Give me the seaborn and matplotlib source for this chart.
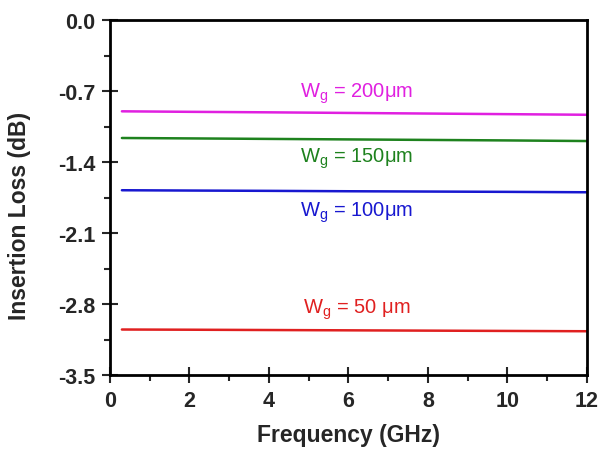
import numpy as np
import pandas as pd
import matplotlib
matplotlib.use('Agg')
import matplotlib.pyplot as plt
import seaborn as sns
from matplotlib.ticker import MultipleLocator

# ─── Data ────────────────────────────────────────────────────────────────────
freq_ghz = [0.3, 2, 4, 6, 8, 10, 12]
loss_200 = [-0.900, -0.905, -0.910, -0.916, -0.922, -0.928, -0.934]
loss_150 = [-1.163, -1.167, -1.172, -1.177, -1.182, -1.187, -1.193]
loss_100 = [-1.678, -1.681, -1.684, -1.688, -1.691, -1.694, -1.698]
loss_50  = [-3.051, -3.053, -3.056, -3.059, -3.062, -3.065, -3.068]

series_names  = ['200', '150', '100', '50']
series_labels = [r'W$_\mathregular{g}$ = 200$\mathregular{\mu}$m',
                 r'W$_\mathregular{g}$ = 150$\mathregular{\mu}$m',
                 r'W$_\mathregular{g}$ = 100$\mathregular{\mu}$m',
                 r'W$_\mathregular{g}$ = 50 $\mathregular{\mu}$m']
label_pos     = [(6.2, -0.72), (6.2, -1.36), (6.2, -1.89), (6.2, -2.85)]
colours       = ['#E020E0', '#1E821E', '#1818D0', '#E02020']

x_ticks = [0, 2, 4, 6, 8, 10, 12]
y_ticks = [0.0, -0.7, -1.4, -2.1, -2.8, -3.5]

df = pd.DataFrame({
    'freq':   freq_ghz * 4,
    'loss':   loss_200 + loss_150 + loss_100 + loss_50,
    'series': [s for s in series_names for _ in freq_ghz],
})

sns.set_theme(style='ticks')
plt.rcParams['font.family'] = ['Liberation Sans', 'DejaVu Sans']
plt.rcParams['mathtext.fontset'] = 'custom'
plt.rcParams['mathtext.rm'] = 'Liberation Sans'

fig = plt.figure(figsize=(6.03, 4.52), dpi=100)
ax = fig.add_axes([0.1824, 0.168, 0.791, 0.7855])

sns.lineplot(data=df, x='freq', y='loss', hue='series',
             hue_order=series_names, palette=colours,
             linewidth=1.8, legend=False, ax=ax)

for lbl, (lx, ly), col in zip(series_labels, label_pos, colours):
    ax.text(lx, ly, lbl, color=col, fontsize=14.5, ha='center', va='center')

ax.set_xlim(0, 12)
ax.set_ylim(-3.5, 0.0)
ax.set_xticks(x_ticks)
ax.set_yticks(y_ticks)
ax.set_yticklabels([f'{v:.1f}' for v in y_ticks])
ax.xaxis.set_minor_locator(MultipleLocator(1))
ax.yaxis.set_minor_locator(MultipleLocator(0.35))
ax.tick_params(which='major', direction='inout', length=11, width=1.5,
               labelsize=15.5, pad=5)
ax.tick_params(which='minor', direction='out', length=4, width=1.5)
for t in ax.get_xticklabels() + ax.get_yticklabels():
    t.set_fontweight('bold')
for sp in ax.spines.values():
    sp.set_linewidth(2)
    sp.set_color('black')

ax.set_xlabel('Frequency (GHz)', fontsize=16.5, fontweight='bold', labelpad=9)
ax.set_ylabel('Insertion Loss (dB)', fontsize=16.5, fontweight='bold')
ax.yaxis.set_label_coords(-0.166, 0.45)

fig.savefig('out.png', dpi=100)
